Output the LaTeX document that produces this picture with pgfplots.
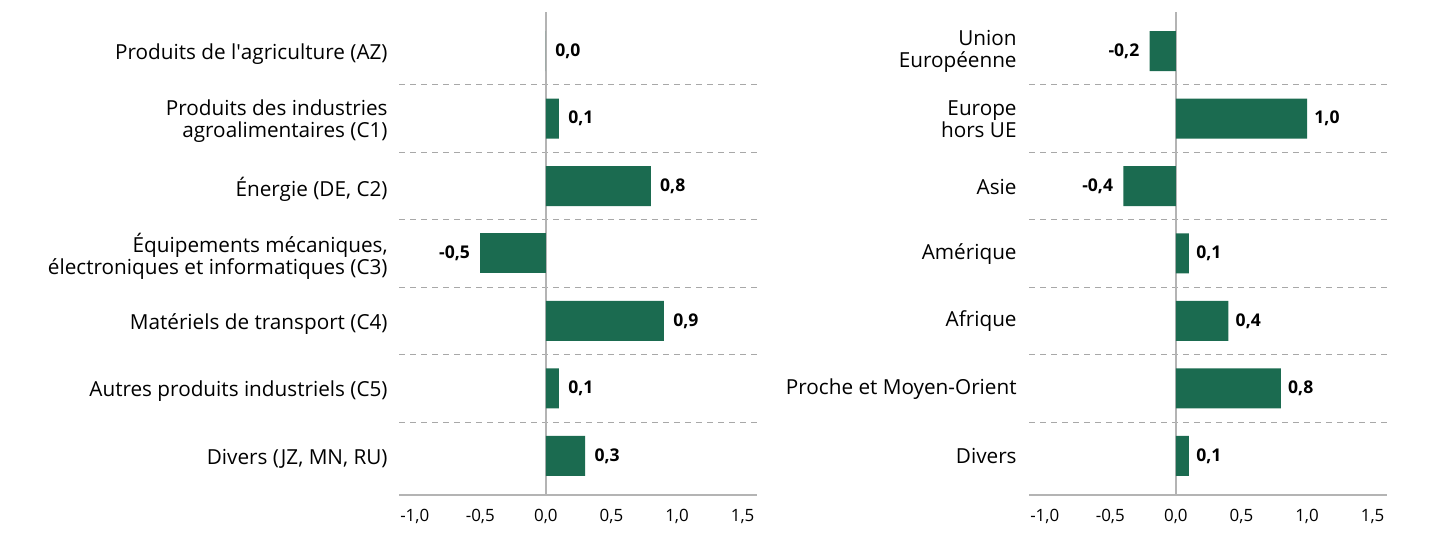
\documentclass[border=0pt]{standalone}
\usepackage{fontspec}
\setmainfont{Open Sans}
\usepackage{pgfplots}
\pgfplotsset{compat=1.18}
\definecolor{barg}{HTML}{1B6B50}
\definecolor{axg}{HTML}{B4B4B4}
\definecolor{dashg}{HTML}{A8A8A8}
\pgfplotsset{
  mystyle/.style={
    scale only axis,
    width=179bp, height=241.5bp,
    anchor=south west,
    xmin=-1.12, xmax=1.61,
    ymin=-0.58, ymax=6.58,
    axis x line*=bottom, axis y line*=left,
    x axis line style={draw=axg, line width=1.1bp, shorten <=0pt},
    y axis line style={draw=none},
    xtick={-1,-0.5,0,0.5,1,1.5},
    xticklabels={{-1,0},{-0,5},{0,0},{0,5},{1,0},{1,5}},
    xtick style={draw=none},
    xticklabel style={font=\fontsize{8.5}{10}\selectfont, inner sep=0pt, yshift=-7bp},
    ytick={0,...,6},
    ytick style={draw=none},
    yticklabel style={font=\fontsize{10.4}{11}\selectfont, align=right, inner sep=0pt, xshift=-5.5bp, yshift=-1.5bp},
    minor ytick={0.5,1.5,...,5.5},
    minor tick length=0pt,
    yminorgrids=true,
    minor grid style={draw=dashg, dash pattern=on 3bp off 2.5bp, line width=0.6bp},
    extra x ticks={0},
    extra x tick labels={},
    extra x tick style={grid=major, major grid style={draw=axg, line width=0.8bp}, tick style={draw=none}},
    clip=false,
  },
  bars/.style={xbar, bar width=20bp, bar shift=0pt, fill=barg, draw=none,
    point meta=explicit symbolic, nodes near coords,
    nodes near coords style={font=\bfseries\fontsize{8.8}{10}\selectfont, text=black, inner sep=0pt, #1}},
}
\begin{document}
\begin{tikzpicture}
\useasboundingbox (0,0) rectangle (716.5bp,269bp);
% Left chart
\begin{axis}[mystyle, at={(199.5bp,21.5bp)},
  yticklabels={
    {Divers (JZ, MN, RU)},
    {Autres produits industriels (C5)},
    {Matériels de transport (C4)},
    {Équipements mécaniques,\\électroniques et informatiques (C3)},
    {Énergie (DE, C2)},
    {Produits des industries\\agroalimentaires (C1)},
    {Produits de l\textquotesingle agriculture (AZ)}},
]
\addplot[bars={anchor=west, xshift=4.5bp}] table[meta=lab] {
x y lab
0.0 6 0,0
0.1 5 0,1
0.8 4 0,8
0.9 2 0,9
0.1 1 0,1
0.3 0 0,3
};
\addplot[bars={anchor=east, xshift=-5bp}] table[meta=lab] {
x y lab
-0.5 3 -0,5
};
\end{axis}
% Right chart
\begin{axis}[mystyle, at={(514.5bp,21.5bp)},
  yticklabel style={xshift=-0.5bp, yshift=1.2bp},
  yticklabels={
    {Divers},
    {Proche et Moyen-Orient},
    {Afrique},
    {Amérique},
    {Asie},
    {Europe\\hors UE},
    {Union\\Européenne}},
]
\addplot[bars={anchor=west, xshift=3.5bp}] table[meta=lab] {
x y lab
1.0 5 1,0
0.1 3 0,1
0.4 2 0,4
0.8 1 0,8
0.1 0 0,1
};
\addplot[bars={anchor=east, xshift=-5bp}] table[meta=lab] {
x y lab
-0.2 6 -0,2
-0.4 4 -0,4
};
\end{axis}
\end{tikzpicture}
\end{document}
